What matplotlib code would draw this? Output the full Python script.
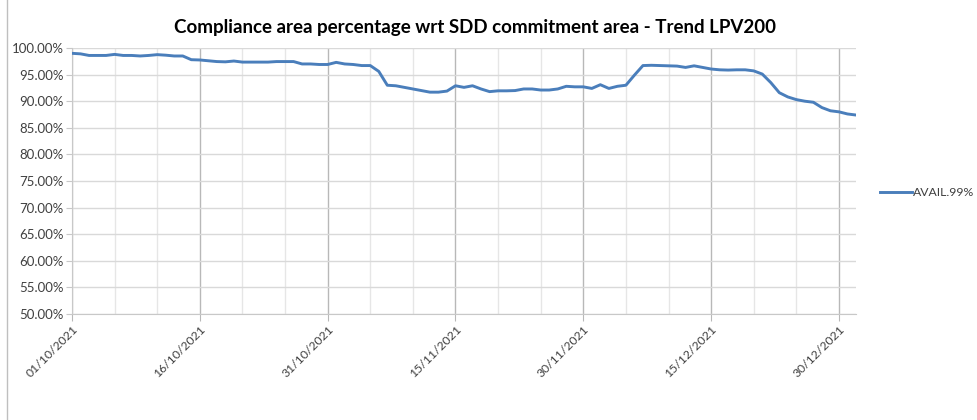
import matplotlib
matplotlib.use("Agg")
import matplotlib.pyplot as plt
import matplotlib.dates as mdates
import numpy as np
import pandas as pd

plt.rcParams['font.family'] = ['Lato', 'DejaVu Sans']

start_date = "2021-10-01"
avail_99 = [
    99.0, 98.9, 98.6, 98.6, 98.6, 98.8, 98.6, 98.6, 98.5, 98.6,
    98.75, 98.65, 98.5, 98.5, 97.8, 97.75, 97.6, 97.45, 97.4, 97.55,
    97.35, 97.35, 97.35, 97.35, 97.45, 97.45, 97.45, 97.0, 97.0, 96.9,
    96.9, 97.3, 97.0, 96.9, 96.7, 96.7, 95.6, 93.0, 92.9, 92.6,
    92.3, 92.0, 91.7, 91.7, 91.9, 92.9, 92.6, 92.9, 92.3, 91.8,
    91.95, 91.95, 92.0, 92.3, 92.3, 92.1, 92.1, 92.3, 92.8, 92.7,
    92.7, 92.4, 93.1, 92.4, 92.8, 93.0, 94.9, 96.7, 96.75, 96.7,
    96.65, 96.6, 96.35, 96.65, 96.35, 96.05, 95.9, 95.85, 95.9, 95.9,
    95.7, 95.1, 93.5, 91.6, 90.8, 90.3, 90.0, 89.8, 88.8, 88.2,
    88.0, 87.6, 87.4,
]
series_name = "AVAIL.99%"
title = "Compliance area percentage wrt SDD commitment area - Trend LPV200"
y_ticks = [50, 55, 60, 65, 70, 75, 80, 85, 90, 95, 100]

dates = pd.date_range(start_date, periods=len(avail_99), freq="D")

fig = plt.figure(figsize=(9.77, 4.2), dpi=100)
ax = fig.add_axes([72/977, 1-314/420, (856-72)/977, (314-48)/420])

ax.plot(dates, avail_99, color="#4a7ebb", lw=2.1, label=series_name, zorder=3)

ax.set_ylim(50, 100)
ax.set_yticks(y_ticks)
ax.set_yticklabels([f"{v:.2f}%" for v in y_ticks])
ax.set_xlim(dates[0], dates[-1])

major = pd.date_range(start_date, dates[-1], freq="15D")
minor = pd.date_range(start_date, dates[-1], freq="5D")
ax.set_xticks(major)
ax.set_xticks(minor, minor=True)
ax.xaxis.set_major_formatter(mdates.DateFormatter("%d/%m/%Y"))
for lbl in ax.get_xticklabels():
    lbl.set_rotation(45)
    lbl.set_ha("right")
    lbl.set_rotation_mode("anchor")

ax.grid(axis="y", which="major", color="#d9d9d9", lw=1.0, zorder=0)
ax.grid(axis="x", which="major", color="#b8b8b8", lw=1.0, zorder=0)
ax.grid(axis="x", which="minor", color="#e6e6e6", lw=1.0, zorder=0)

for s in ["top", "right"]:
    ax.spines[s].set_visible(False)
ax.spines["left"].set_color("#c8c8c8")
ax.spines["bottom"].set_color("#c8c8c8")
ax.tick_params(axis="x", which="major", length=5, color="#b8b8b8", labelsize=8.8, labelcolor="#404040", pad=2)
ax.tick_params(axis="x", which="minor", length=0)
ax.tick_params(axis="y", length=4, color="#c8c8c8", labelsize=9.5, labelcolor="#404040", pad=2)

fig.text(475/977, 1-28/420, title, ha="center", va="center", fontsize=13.5, fontweight="bold", color="#000000")

ax.legend(loc="center left", bbox_to_anchor=(880/977, 1-193/420), bbox_transform=fig.transFigure,
          frameon=False, fontsize=8.8, handlelength=2.6, handletextpad=0.1, labelcolor="#404040",
          borderaxespad=0, borderpad=0)

fig.add_artist(plt.Line2D([7/977, 7/977], [0, 1], transform=fig.transFigure, color="#bfbfbf", lw=1))

fig.savefig("out.png", dpi=100)
